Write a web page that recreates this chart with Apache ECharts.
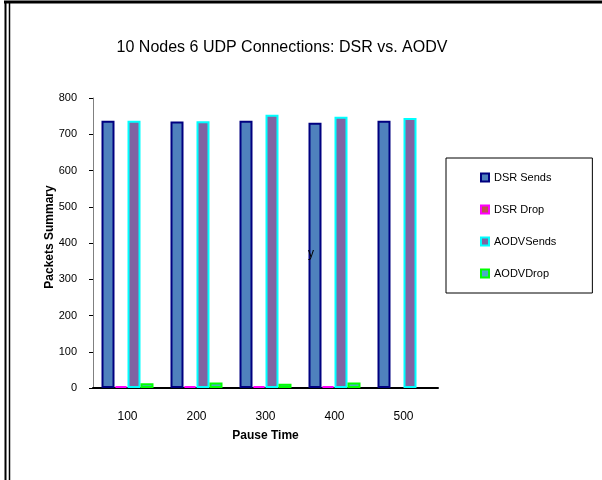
<!DOCTYPE html>
<html>
<head>
<meta charset="utf-8">
<title>10 Nodes 6 UDP Connections: DSR vs. AODV</title>
<script src="https://cdn.jsdelivr.net/npm/echarts@6/dist/echarts.min.js"></script>
<style>
  html, body { margin: 0; padding: 0; background: #fff; }
  #chart { width: 602px; height: 480px; }
</style>
</head>
<body>
<div id="chart"></div>
<script>
// data (null = no bar drawn)
const pauseTimes = ['100', '200', '300', '400', '500']
const dsrSends = [737, 735, 737, 732, 737]
const dsrDrop = [5, 5, 5, 5, null]
const aodvSends = [737, 736, 754, 748, 745]
const aodvDrop = [13, 15, 12, 15, null]
const yTicks = [0, 100, 200, 300, 400, 500, 600, 700, 800]

const font = '"Liberation Sans", Arial, sans-serif'

const chart = echarts.init(document.getElementById('chart'), null, { renderer: 'canvas' })

function barSeries(name, data, fill, border) {
  return {
    name: name,
    type: 'bar',
    data: data,
    barWidth: 13,
    barGap: '0%',
    itemStyle: {
      color: fill,
      borderColor: border,
      borderWidth: 2
    },
    emphasis: { disabled: true }
  }
}

const option = {
  animation: false,
  backgroundColor: '#fff',
  textStyle: { fontFamily: font },
  title: {
    text: '10 Nodes 6 UDP Connections: DSR vs. AODV',
    left: 277,
    textAlign: 'center',
    top: 35,
    textStyle: { fontFamily: font, fontSize: 16, fontWeight: 'normal', color: '#000' }
  },
  grid: { left: 93, right: 164, top: 98, bottom: 92 },
  legend: {
    orient: 'vertical',
    left: 446,
    top: 158,
    padding: [14, 36, 14, 34],
    itemGap: 21,
    itemWidth: 8,
    itemHeight: 8,
    icon: 'rect',
    borderColor: '#000',
    borderWidth: 1,
    textStyle: { fontFamily: font, fontSize: 11, color: '#000' },
    data: ['DSR Sends', 'DSR Drop', 'AODVSends', 'AODVDrop']
  },
  xAxis: {
    type: 'category',
    data: pauseTimes,
    name: 'Pause Time',
    nameLocation: 'middle',
    nameGap: 42,
    nameMoveOverlap: false,
    nameTextStyle: { fontFamily: font, fontSize: 12, fontWeight: 'bold', color: '#000' },
    axisLine: { lineStyle: { color: '#000', width: 2 } },
    axisTick: { length: 4, lineStyle: { color: '#000' } },
    axisLabel: { margin: 23, fontFamily: font, fontSize: 12, color: '#000' }
  },
  yAxis: {
    type: 'value',
    min: yTicks[0],
    max: yTicks[yTicks.length - 1],
    interval: 100,
    name: 'Packets Summary',
    nameLocation: 'middle',
    nameGap: 37,
    nameMoveOverlap: false,
    nameTextStyle: { fontFamily: font, fontSize: 12, fontWeight: 'bold', color: '#000', padding: [0, 0, 0, 12] },
    axisLine: { show: true, lineStyle: { color: '#808080', width: 1 } },
    axisTick: { show: true, length: 4, lineStyle: { color: '#000' } },
    axisLabel: { margin: 16, fontFamily: font, fontSize: 11, color: '#000' },
    splitLine: { show: false }
  },
  series: [
    barSeries('DSR Sends', dsrSends, '#4f81bd', '#000080'),
    barSeries('DSR Drop', dsrDrop, '#c0504d', '#ff00ff'),
    barSeries('AODVSends', aodvSends, '#8064a2', '#00ffff'),
    barSeries('AODVDrop', aodvDrop, '#4bacc6', '#00ff00')
  ],
  graphic: [
    // outer frame of the original figure
    { type: 'line', shape: { x1: 4, y1: 2, x2: 602, y2: 2 }, style: { stroke: '#000', lineWidth: 3 } },
    { type: 'line', shape: { x1: 5.5, y1: 2, x2: 5.5, y2: 480 }, style: { stroke: '#000', lineWidth: 2 } },
    { type: 'line', shape: { x1: 9.5, y1: 3, x2: 9.5, y2: 480 }, style: { stroke: '#000', lineWidth: 1.5 } },
    // stray label in the reference, drawn on top of the bars
    { type: 'text', left: 308, top: 248, z: 100, style: { text: 'y', font: '12px ' + font, fill: '#000' } }
  ]
}

chart.setOption(option)
</script>
</body>
</html>
